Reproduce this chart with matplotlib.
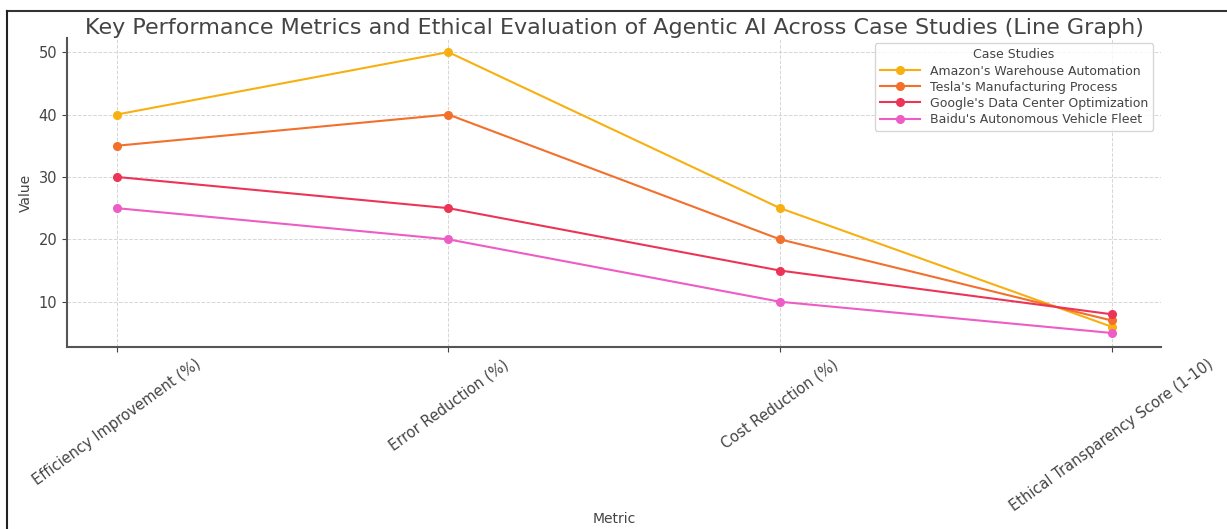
import matplotlib
matplotlib.use('Agg')
import matplotlib.pyplot as plt
from matplotlib.lines import Line2D

# data
metrics = ['Efficiency Improvement (%)', 'Error Reduction (%)', 'Cost Reduction (%)',
           'Ethical Transparency Score (1-10)']
amazon = [40, 50, 25, 6]
tesla = [35, 40, 20, 7]
google = [30, 25, 15, 8]
baidu = [25, 20, 10, 5]
names = ["Amazon's Warehouse Automation", "Tesla's Manufacturing Process",
         "Google's Data Center Optimization", "Baidu's Autonomous Vehicle Fleet"]
colors = ['#f7b010', '#f2702c', '#ec3456', '#ee5cc6']

txt = '#444444'
plt.rcParams['font.family'] = 'DejaVu Sans'

fig = plt.figure(figsize=(12.27, 5.29), dpi=100)
ax = fig.add_axes([0.0546, 0.344, 0.892, 0.584])

for vals, name, c in zip([amazon, tesla, google, baidu], names, colors):
    ax.plot(metrics, vals, marker='o', markersize=5.5, linewidth=1.5, color=c, label=name)

ax.set_title('Key Performance Metrics and Ethical Evaluation of Agentic AI Across Case Studies (Line Graph)',
             fontsize=16, color=txt, pad=1)
ax.set_xlabel('Metric', fontsize=10, color=txt)
ax.xaxis.set_label_coords(0.5, -0.535)
ax.set_ylabel('Value', fontsize=10, color=txt)
ax.set_yticks([10, 20, 30, 40, 50])
plt.xticks(rotation=36)
ax.tick_params(axis='both', labelsize=10.5, colors=txt)
ax.grid(True, linestyle='--', linewidth=0.7, color='#cccccc', alpha=0.8)
for s in ['top', 'right']:
    ax.spines[s].set_visible(False)
for s in ['left', 'bottom']:
    ax.spines[s].set_color('#555555')
    ax.spines[s].set_linewidth(1.5)

leg = ax.legend(title='Case Studies', loc='upper right', fontsize=9, title_fontsize=9,
                labelspacing=0.25, handlelength=3.2, borderpad=0.4,
                bbox_to_anchor=(0.998, 1.003))
for t in leg.get_texts():
    t.set_color(txt)
leg.get_title().set_color(txt)

# screenshot border on top and left
fig.add_artist(Line2D([7 / 1227, 1], [1 - 11 / 529, 1 - 11 / 529], color='#333333', linewidth=1.5))
fig.add_artist(Line2D([7 / 1227, 7 / 1227], [0, 1 - 11 / 529], color='#222222', linewidth=1.5))

fig.savefig('out.png', dpi=100)
